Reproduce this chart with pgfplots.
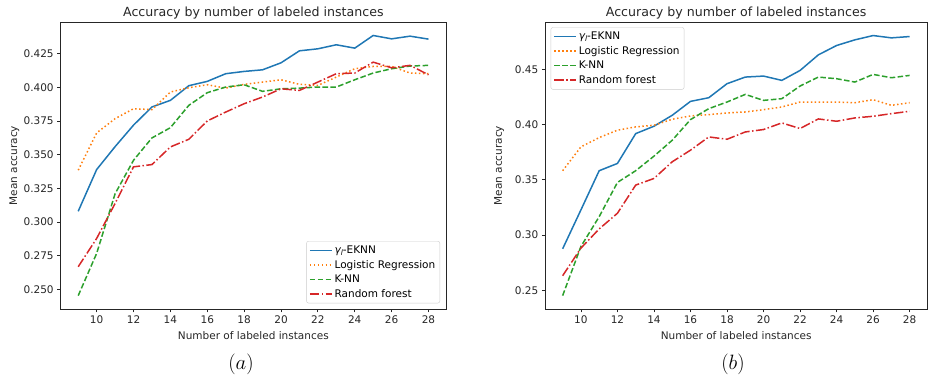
\documentclass[border=0pt]{standalone}
\usepackage{pgfplots}
\pgfplotsset{compat=1.18}
\usepackage{fontspec}
\setmainfont{DejaVu Sans}
\definecolor{c0}{HTML}{1F77B4}
\definecolor{c1}{HTML}{FF7F0E}
\definecolor{c2}{HTML}{2CA02C}
\definecolor{c3}{HTML}{D62728}
\newcommand{\gl}{{\itshape γ}\raisebox{-0.22em}{\fontsize{7.5}{8}\selectfont\itshape l}-EKNN}
\pgfplotsset{
  mystyle/.style={
    scale only axis,
    /pgf/number format/assume math mode=true,
    tick label style={font=\fontsize{10.5}{12}\selectfont, text=black!85},
    label style={font=\fontsize{10.5}{12}\selectfont, text=black!85},
    every axis title shift=0pt,
    title style={font=\fontsize{12.6}{14}\selectfont, text=black!85, at={(axis description cs:0.5,1)}, anchor=base, yshift=5.6pt},
    axis line style={line width=0.8pt, black!85},
    tick style={line width=0.8pt, black!85},
    tick align=outside,
    major tick length=3.5pt,
    xtick pos=bottom, ytick pos=left,
    xmin=8.05, xmax=28.95,
    xtick={10,12,...,28},
    xlabel={Number of labeled instances},
    ylabel={Mean accuracy},
    xlabel style={at={(axis description cs:0.5,0)}, anchor=base, yshift=-31pt},
    ylabel style={at={(axis description cs:0,0.5)}, anchor=base, yshift=43.5pt},
    title={Accuracy by number of labeled instances},
    legend cell align=left,
    legend image code/.code={\draw[##1] (0pt,0pt) -- (22pt,0pt);},
    legend style={font=\fontsize{10.5}{12}\selectfont, draw=black!20, rounded corners=2pt,
      fill=white, fill opacity=0.8, text opacity=1, inner sep=2.5pt, row sep=1.2pt},
  },
  s0/.style={c0, line width=1.5pt},
  s1/.style={c1, line width=1.5pt, dash pattern=on 1.5pt off 2.475pt},
  s2/.style={c2, line width=1.5pt, dash pattern=on 5.55pt off 2.4pt},
  s3/.style={c3, line width=1.5pt, dash pattern=on 9.6pt off 2.4pt on 1.5pt off 2.4pt},
}
\begin{document}
\begin{tikzpicture}[x=1pt,y=1pt]
\useasboundingbox (0,0) rectangle (930,379);
\begin{axis}[mystyle,
  at={(60.7pt,70pt)}, anchor=south west,
  width=385.3pt, height=286.7pt,
  ymin=0.2354, ymax=0.4484,
  ytick={0.250,0.275,...,0.426},
  yticklabel style={/pgf/number format/.cd, fixed, fixed zerofill, precision=3},
  legend style={at={(axis description cs:1,0)}, anchor=south east, xshift=-6pt, yshift=5.7pt},
]
\addplot[s0] coordinates {(9,0.308)(10,0.339)(11,0.356)(12,0.372)(13,0.3855)(14,0.3904)(15,0.4013)(16,0.4045)(17,0.4102)(18,0.4119)(19,0.4131)(20,0.4183)(21,0.4272)(22,0.4287)(23,0.4317)(24,0.4292)(25,0.4386)(26,0.4361)(27,0.4381)(28,0.4359)};
\addlegendentry{\gl}
\addplot[s1] coordinates {(9,0.3385)(10,0.3662)(11,0.3768)(12,0.3842)(13,0.3835)(14,0.3966)(15,0.3998)(16,0.402)(17,0.3995)(18,0.4023)(19,0.404)(20,0.4057)(21,0.4023)(22,0.4015)(23,0.4077)(24,0.4139)(25,0.4156)(26,0.4156)(27,0.4107)(28,0.4102)};
\addlegendentry{Logistic Regression}
\addplot[s2] coordinates {(9,0.2453)(10,0.2767)(11,0.321)(12,0.3459)(13,0.3625)(14,0.3701)(15,0.3867)(16,0.3961)(17,0.4003)(18,0.402)(19,0.3971)(20,0.399)(21,0.3995)(22,0.4003)(23,0.4003)(24,0.4057)(25,0.4107)(26,0.4139)(27,0.4159)(28,0.4164)};
\addlegendentry{K-NN}
\addplot[s3] coordinates {(9,0.2668)(10,0.2878)(11,0.3138)(12,0.341)(13,0.3427)(14,0.3558)(15,0.3615)(16,0.3751)(17,0.3817)(18,0.3879)(19,0.3929)(20,0.399)(21,0.3978)(22,0.404)(23,0.4102)(24,0.4107)(25,0.4188)(26,0.4146)(27,0.4164)(28,0.4094)};
\addlegendentry{Random forest}
\end{axis}
\begin{axis}[mystyle,
  at={(545.3pt,70pt)}, anchor=south west,
  width=381.7pt, height=286.7pt,
  ymin=0.2331, ymax=0.4927,
  ytick={0.25,0.30,...,0.46},
  yticklabel style={/pgf/number format/.cd, fixed, fixed zerofill, precision=2},
  legend style={at={(axis description cs:0,1)}, anchor=north west, xshift=5.4pt, yshift=-5pt},
]
\addplot[s0] coordinates {(9,0.2876)(10,0.3228)(11,0.3583)(12,0.3649)(13,0.3919)(14,0.3986)(15,0.4085)(16,0.4211)(17,0.4244)(18,0.4371)(19,0.4431)(20,0.444)(21,0.4401)(22,0.4491)(23,0.4632)(24,0.4717)(25,0.4768)(26,0.4807)(27,0.4786)(28,0.4798)};
\addlegendentry{\gl}
\addplot[s1] coordinates {(9,0.3583)(10,0.3799)(11,0.3883)(12,0.395)(13,0.398)(14,0.3995)(15,0.4049)(16,0.4079)(17,0.4091)(18,0.4106)(19,0.4115)(20,0.4136)(21,0.416)(22,0.4205)(23,0.4205)(24,0.4205)(25,0.4199)(26,0.4226)(27,0.4175)(28,0.4199)};
\addlegendentry{Logistic Regression}
\addplot[s2] coordinates {(9,0.2452)(10,0.2897)(11,0.3167)(12,0.3477)(13,0.3583)(14,0.3715)(15,0.3859)(16,0.4046)(17,0.4145)(18,0.4205)(19,0.4274)(20,0.422)(21,0.4235)(22,0.435)(23,0.4431)(24,0.4416)(25,0.4386)(26,0.4455)(27,0.4425)(28,0.4446)};
\addlegendentry{K-NN}
\addplot[s3] coordinates {(9,0.2632)(10,0.2882)(11,0.3056)(12,0.3198)(13,0.3453)(14,0.3513)(15,0.3664)(16,0.3769)(17,0.3889)(18,0.3868)(19,0.3934)(20,0.3956)(21,0.4016)(22,0.3965)(23,0.4052)(24,0.4031)(25,0.4061)(26,0.4076)(27,0.41)(28,0.4121)};
\addlegendentry{Random forest}
\end{axis}
\node[anchor=base, font=\fontsize{22}{26}\selectfont] at (241,9) {$(a)$};
\node[anchor=base, font=\fontsize{22}{26}\selectfont] at (733,9) {$(b)$};
\end{tikzpicture}
\end{document}
